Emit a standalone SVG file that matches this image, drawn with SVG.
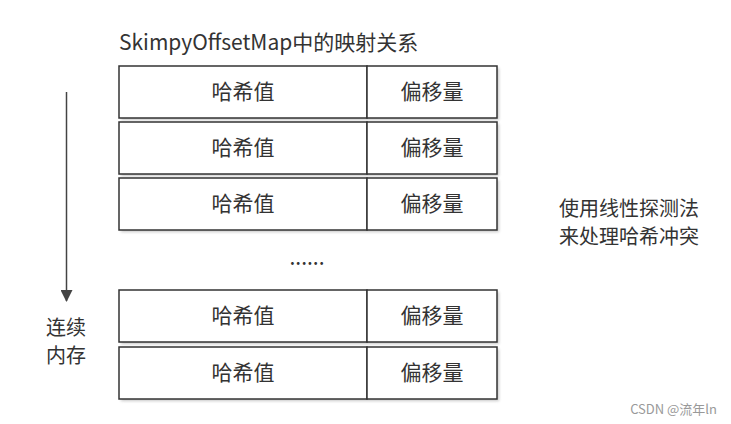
<svg xmlns="http://www.w3.org/2000/svg" width="731" height="424" viewBox="0 0 731 424">
<style>
.cell{fill:#fff;stroke:#333;stroke-width:1.5}
.shadow{fill:#999;opacity:0.55}
.t{font-family:"Noto Sans CJK SC","Liberation Sans",sans-serif;font-size:21px;fill:#333;text-anchor:middle}
.s{font-family:"Noto Sans CJK SC","Liberation Sans",sans-serif;font-size:20px;fill:#333;text-anchor:middle}
.lbl{font-family:"Noto Sans CJK SC","Liberation Sans",sans-serif;font-size:21px;fill:#333}
</style>
<defs>
<filter id="blur" x="-5%" y="-50%" width="110%" height="200%"><feGaussianBlur stdDeviation="1.5"/></filter>
<marker id="ah" markerWidth="12" markerHeight="12" refX="11" refY="6" orient="auto" markerUnits="userSpaceOnUse" viewBox="0 0 12 12">
<path d="M0,0 L12,6 L0,12 Z" fill="#444"/>
</marker>
</defs>
<rect width="731" height="424" fill="#fff"/>
<text x="119" y="50" class="lbl">SkimpyOffsetMap中的映射关系</text>
<g id="row1">
<rect x="121" y="68" width="378" height="52" class="shadow" filter="url(#blur)"/>
<rect x="119" y="66" width="248" height="52" class="cell"/><rect x="367" y="66" width="130" height="52" class="cell"/>
<text x="243" y="99" class="t">哈希值</text><text x="432" y="99" class="t">偏移量</text>
</g>
<g id="row2">
<rect x="121" y="124" width="378" height="52" class="shadow" filter="url(#blur)"/>
<rect x="119" y="122" width="248" height="52" class="cell"/><rect x="367" y="122" width="130" height="52" class="cell"/>
<text x="243" y="155" class="t">哈希值</text><text x="432" y="155" class="t">偏移量</text>
</g>
<g id="row3">
<rect x="121" y="180" width="378" height="52" class="shadow" filter="url(#blur)"/>
<rect x="119" y="178" width="248" height="52" class="cell"/><rect x="367" y="178" width="130" height="52" class="cell"/>
<text x="243" y="211" class="t">哈希值</text><text x="432" y="211" class="t">偏移量</text>
</g>
<text x="307" y="265" class="t" font-size="14">......</text>
<g id="row4">
<rect x="121" y="292" width="378" height="52" class="shadow" filter="url(#blur)"/>
<rect x="119" y="290" width="248" height="52" class="cell"/><rect x="367" y="290" width="130" height="52" class="cell"/>
<text x="243" y="323" class="t">哈希值</text><text x="432" y="323" class="t">偏移量</text>
</g>
<g id="row5">
<rect x="121" y="349" width="378" height="52" class="shadow" filter="url(#blur)"/>
<rect x="119" y="347" width="248" height="52" class="cell"/><rect x="367" y="347" width="130" height="52" class="cell"/>
<text x="243" y="380" class="t">哈希值</text><text x="432" y="380" class="t">偏移量</text>
</g>
<g id="connectors">
<line x1="66.5" y1="92" x2="66.5" y2="301" stroke="#444" stroke-width="1.5" marker-end="url(#ah)"/>
</g>
<text x="66" y="335" class="s">连续</text>
<text x="66" y="363" class="s">内存</text>
<text x="629" y="216" class="s" font-size="21">使用线性探测法</text>
<text x="629" y="244" class="s" font-size="21">来处理哈希冲突</text>
<text x="717" y="414" font-family="'Noto Sans CJK SC','Liberation Sans',sans-serif" font-size="13" fill="#999" text-anchor="end">CSDN @流年ln</text>
</svg>
